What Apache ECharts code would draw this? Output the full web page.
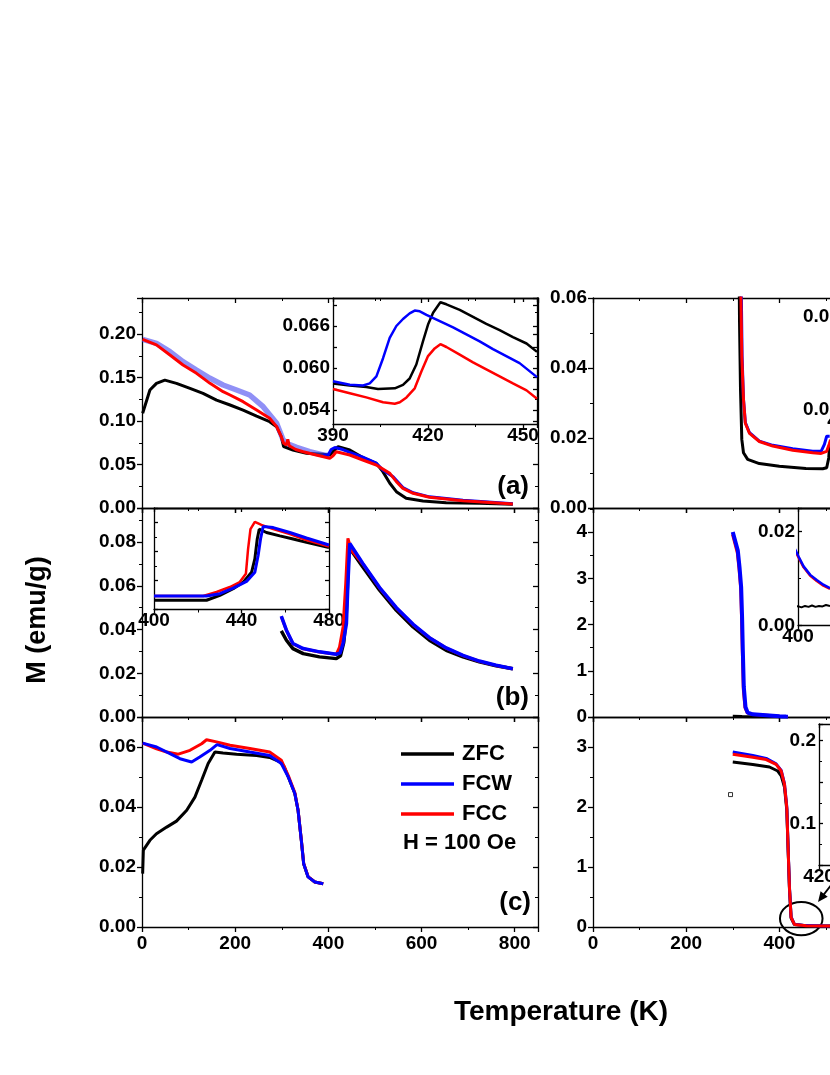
<!DOCTYPE html>
<html><head><meta charset="utf-8">
<script src="https://cdn.jsdelivr.net/npm/echarts@6/dist/echarts.min.js"></script>
<style>html,body{margin:0;padding:0;background:#fff}#c{width:830px;height:1075px}</style>
</head><body><div id="c"></div>
<script>
// ---------------- DATA ----------------
// Panel (a)
const aZFC = [[1.4,0.109],[17,0.1356],[31,0.1433],[49,0.147],[74,0.1433],[103,0.1375],[131,0.1318],[160,0.1241],[189,0.1184],[217,0.1126],[246,0.1057],[274,0.0992],[289,0.0935],[299,0.082],[304,0.0705],[324,0.0667],[353,0.0628],[389,0.0617],[403,0.0609],[412,0.066],[421,0.0705],[446,0.0667],[474,0.058],[503,0.0513],[517,0.0418],[532,0.0284],[546,0.0188],[567,0.0111],[603,0.008],[653,0.0061],[724,0.0054],[796,0.0042]];
const aFCW = [[1.4,0.1939],[31,0.1893],[60,0.1797],[88,0.1682],[117,0.1586],[146,0.1491],[174,0.1414],[203,0.1356],[231,0.1299],[260,0.1165],[289,0.0974],[303,0.0782],[314,0.0736],[332,0.0697],[360,0.0647],[389,0.0609],[399,0.0603],[406,0.0672],[414,0.0695],[431,0.0672],[446,0.064],[474,0.0585],[503,0.0515],[517,0.0437],[539,0.036],[560,0.0235],[582,0.0175],[617,0.0128],[689,0.0088],[796,0.0048]];
const aFCC = [[1.4,0.1939],[31,0.1875],[60,0.1759],[88,0.1644],[117,0.1548],[146,0.1433],[174,0.1337],[189,0.1299],[217,0.1222],[246,0.1126],[274,0.1031],[289,0.0935],[299,0.082],[304,0.0744],[310,0.0725],[313,0.079],[316,0.0715],[330,0.0672],[346,0.0647],[374,0.0609],[403,0.0571],[410,0.06],[417,0.0647],[446,0.0609],[474,0.0552],[503,0.0494],[532,0.0398],[546,0.0303],[560,0.0226],[582,0.0169],[617,0.0123],[689,0.0084],[796,0.0046]];
// Inset of (a)
const iaZFC = [[390,0.0578],[395.3,0.0575],[400.5,0.0573],[404.2,0.057],[409.5,0.0571],[412.1,0.0576],[414.2,0.0585],[416.3,0.0605],[418.4,0.0638],[420,0.0662],[421.6,0.0679],[423.9,0.0694],[425.8,0.0691],[430,0.0683],[434.2,0.0673],[438.4,0.0663],[442.6,0.0654],[446.8,0.0644],[451.1,0.0635],[454.4,0.0623]];
const iaFCW = [[390,0.0581],[395.3,0.0576],[399.5,0.0575],[401.6,0.0578],[403.7,0.0588],[405.8,0.0614],[407.9,0.0643],[410,0.066],[412.1,0.067],[414.2,0.0678],[415.8,0.0682],[417.4,0.0681],[419.5,0.0676],[423.7,0.0667],[427.9,0.0658],[432.1,0.0648],[436.3,0.0638],[440.5,0.0627],[444.7,0.0617],[448.9,0.0607],[454.4,0.0587]];
const iaFCC = [[390,0.057],[395.3,0.0564],[400.5,0.0558],[405.8,0.0551],[409.5,0.0549],[411.1,0.0551],[413.2,0.0558],[415.8,0.0571],[417.9,0.0595],[420,0.0617],[422.1,0.0628],[423.9,0.0634],[425.8,0.063],[430,0.0619],[434.2,0.0608],[438.4,0.0598],[442.6,0.0588],[446.8,0.0578],[451.1,0.0568],[454.4,0.0556]];
const iaTickLabels = [0.054, 0.060, 0.066];
const iaTicks = [0.054, 0.057, 0.060, 0.063, 0.066, 0.069];
// Panel (b)
const bZFC = [[299,0.0394],[310,0.0351],[324,0.0313],[346,0.029],[381,0.0275],[417,0.0267],[426,0.028],[433,0.034],[438,0.045],[441,0.06],[444,0.0778],[447,0.0772],[474,0.0686],[510,0.058],[546,0.0488],[582,0.0412],[617,0.0351],[653,0.0305],[689,0.0275],[724,0.0252],[760,0.0234],[796,0.0221]];
const bFCW = [[299,0.0461],[310,0.0397],[324,0.0336],[346,0.0313],[381,0.0298],[417,0.0287],[425,0.0292],[431.6,0.0336],[438.8,0.0427],[442,0.061],[446,0.0794],[474,0.0702],[510,0.0592],[546,0.05],[582,0.0424],[617,0.0363],[653,0.0316],[689,0.0282],[724,0.0256],[760,0.0237],[796,0.0221]];
const bFCC = [[299,0.046],[310,0.0396],[324,0.0335],[346,0.0312],[381,0.0297],[417,0.0287],[424,0.032],[431.6,0.0412],[437.3,0.061],[442,0.0817],[449.5,0.0763],[474,0.07],[510,0.059],[546,0.0498],[582,0.0422],[617,0.0362],[653,0.0315],[689,0.0281],[724,0.0255],[760,0.0236],[796,0.0221]];
// Inset of (b)
const ibZFC = [[400,0.0264],[408.8,0.0264],[424,0.0264],[430.1,0.0298],[436.2,0.0344],[440.8,0.0389],[444.6,0.0457],[446.1,0.0549],[447.2,0.0686],[448.1,0.0754],[451.4,0.0731],[457.5,0.0708],[463.6,0.0686],[469.7,0.0663],[480,0.0628]];
const ibFCW = [[400,0.0293],[424,0.0293],[430.1,0.0309],[436.2,0.0348],[442.3,0.0394],[446.1,0.0457],[447.6,0.0572],[448.7,0.0686],[449.9,0.0772],[454.5,0.0765],[462.1,0.0731],[469.7,0.0693],[480,0.0645]];
const ibFCC = [[400,0.0293],[408.8,0.0293],[422.5,0.0293],[428.6,0.0321],[434.7,0.0355],[439.2,0.0389],[442,0.0446],[443,0.0617],[444.1,0.0754],[446.1,0.0804],[449.1,0.0784],[454.5,0.0754],[462.1,0.072],[469.7,0.0679],[480,0.0635]];
// Panel (c)
const cZFC = [[1.4,0.0178],[2.9,0.0256],[17,0.0289],[31,0.0311],[53,0.0333],[74,0.0353],[96,0.0389],[113.6,0.0433],[128,0.0489],[142,0.0545],[156.5,0.0583],[174,0.058],[203,0.0576],[246,0.0572],[274,0.0565],[296,0.055],[305,0.0535],[314,0.05],[328,0.0445],[335,0.0389],[342,0.0289],[347,0.0211],[356.5,0.0167],[371,0.015],[389,0.0144]];
const cFCW = [[1.4,0.0613],[31.4,0.06],[60,0.0578],[81.5,0.0561],[106.5,0.055],[124,0.0567],[146,0.0589],[161,0.0608],[189,0.0595],[231.5,0.0583],[274,0.0572],[299,0.0545],[314,0.05],[328,0.0445],[335,0.0389],[342,0.0289],[347,0.0211],[356.5,0.0167],[371,0.015],[389,0.0144]];
const cFCC = [[1.4,0.0613],[31.4,0.0594],[53,0.0583],[78,0.0576],[103,0.0589],[128,0.0611],[138.6,0.0624],[160,0.0617],[189,0.0606],[231.5,0.0595],[274,0.0583],[299,0.0556],[314,0.0505],[328,0.0448],[335,0.039],[342,0.029],[347,0.0212],[356.5,0.0168],[371,0.015],[389,0.0144]];
// Right top panel
const rtZFC = [[312,0.1],[314.5,0.0532],[316.6,0.034],[319.4,0.0196],[323,0.0158],[332,0.0139],[357,0.0127],[400,0.0119],[457,0.0113],[493,0.0112],[501.6,0.0115],[506,0.0143],[508,0.018]];
const rtFCW = [[317,0.1],[318.5,0.06],[320,0.0435],[323,0.0311],[327,0.0244],[336,0.0215],[357,0.0191],[386,0.0179],[428.7,0.0169],[471.6,0.0162],[489.6,0.0162],[496.7,0.0182],[501.6,0.0205],[508,0.0205]];
const rtFCC = [[316.5,0.1],[317.5,0.06],[319.5,0.043],[323,0.031],[327,0.0242],[336,0.0213],[357,0.019],[386,0.0177],[428.7,0.0165],[471.6,0.0158],[489.6,0.0156],[501.6,0.0162],[507,0.0182],[510,0.0195]];
const rtiTickLabels = [0.01, 0.02];
// Right middle panel (also drawn in its inset)
const rmZFC = [[300,0.015],[320,0.01],[343,0.007],[400.3,0.0041],[402,0.0039],[404,0.0042],[406,0.004],[408,0.0043],[410,0.004],[412,0.0042],[414,0.0041],[416,0.0044],[418.3,0.0042]];
const rmFCW = [[300,4.0],[310.8,3.6],[314.5,3.24],[318,2.81],[320,2.16],[321.6,1.44],[323.7,0.65],[327.3,0.216],[332,0.095],[343,0.058],[371.6,0.037],[400.3,0.0147],[403.2,0.0126],[407,0.0108],[410.7,0.0097],[414.5,0.0087],[418.3,0.008]];
const rmFCC = [[299.5,3.95],[309.8,3.55],[313.5,3.2],[317,2.78],[319,2.1],[320.6,1.4],[322.7,0.6],[326.3,0.2],[331,0.09],[343,0.056],[371.6,0.036],[400.3,0.0145],[403.2,0.0124],[407,0.0106],[410.7,0.0095],[414.5,0.0085],[418.3,0.0078]];
// Right bottom panel
const rbZFC = [[300,2.75],[343,2.71],[378.8,2.667],[396.6,2.6],[404,2.52],[411,2.33],[416,1.95],[419,1.25],[421.7,0.64],[425.2,0.15],[432.4,0.04],[457.4,0.02],[500,0.015],[510,0.015]];
const rbFCW = [[300,2.917],[343,2.86],[371.7,2.81],[393,2.72],[404,2.61],[411,2.39],[416,2.0],[419,1.28],[421.7,0.667],[425.2,0.167],[432.4,0.045],[457.4,0.023],[500,0.017],[510,0.016]];
const rbFCC = [[300,2.878],[343,2.83],[371.7,2.79],[393,2.71],[404,2.6],[411,2.38],[416,1.98],[419,1.26],[421.7,0.65],[425.2,0.16],[432.4,0.042],[457.4,0.022],[500,0.017],[510,0.016]];
const rbStray = [[295.2,2.207]];
const rbiTickLabels = [0.1, 0.2];
// annotation anchors (data coords of right-bottom panel)
const circleCenter = [447, 0.14];
const arrowTip = [483, 0.417];
const arrowTail = [546, 1.05];
const legendNames = ['ZFC', 'FCW', 'FCC'];

// ---------------- CHART ----------------
const FONT = "'Liberation Sans', Arial, sans-serif";
const chart = echarts.init(document.getElementById('c'));
const grids = [], xAxes = [], yAxes = [], series = [];

function panel(p) {
  const g = grids.length;
  grids.push({left: p.left, top: p.top, width: p.width, height: p.height, outerBoundsMode: 'none', containLabel: false});
  const col = '#000';
  const aLine = {show: true, onZero: false, lineStyle: {color: col, width: 1.3}};
  const tl = p.inset ? 4 : 5;
  const lab = (show, dec, margin, showMax, custom) => {
    const o = {show, margin, fontFamily: FONT, fontWeight: 'bold', fontSize: 19, color: '#000',
      showMaxLabel: custom ? true : showMax, hideOverlap: false, formatter: v => Number(v).toFixed(dec)};
    if (custom) o.customValues = custom;
    return o;
  };
  const tick = (inside, custom) => {
    const o = {show: true, inside, length: tl, lineStyle: {color: col, width: 1.3}};
    if (custom) o.customValues = custom;
    return o;
  };
  const minor = (custom) => custom ? {show: false} : {show: true, splitNumber: 2, length: 3, lineStyle: {color: col, width: 1}};
  const base = (r) => {
    const o = {type: 'value', gridIndex: g, min: r[0], max: r[1], splitLine: {show: false}, axisLine: aLine};
    if (r[2]) o.interval = r[2];
    return o;
  };
  const xi = xAxes.length;
  xAxes.push(Object.assign(base(p.x), {position: 'bottom', axisTick: tick(false), minorTick: minor(),
    axisLabel: lab(!!p.xLab, 0, p.inset ? 2 : 7, !!p.xShowMax)}));
  xAxes.push(Object.assign(base(p.x), {position: 'top', axisTick: tick(true), minorTick: minor(), axisLabel: {show: false}}));
  const yi = yAxes.length;
  yAxes.push(Object.assign(base(p.y), {position: 'left', axisTick: tick(!!p.inset, p.yTicks), minorTick: minor(p.yTicks),
    axisLabel: lab(p.yLab !== false, p.yDec || 0, p.inset ? 3 : 6, !!p.yShowMax, p.yLabels)}));
  yAxes.push(Object.assign(base(p.y), {position: 'right', axisTick: tick(true, p.yTicks), minorTick: minor(p.yTicks), axisLabel: {show: false}}));
  return {x: xi, y: yi};
}

const ax = {};
ax.a  = panel({left: 142, top: 298, width: 396, height: 210, x: [0, 850, 200], y: [0, 0.2414, 0.05], yDec: 2});
ax.b  = panel({left: 142, top: 508, width: 396, height: 209, x: [0, 850, 200], y: [0, 0.0956, 0.02], yDec: 2});
ax.c  = panel({left: 142, top: 717, width: 396, height: 210, x: [0, 850, 200], y: [0, 0.07, 0.02], yDec: 2, xLab: true});
ax.rt = panel({left: 593, top: 298, width: 396, height: 210, x: [0, 850, 200], y: [0, 0.06, 0.02], yDec: 2, yShowMax: true});
ax.rm = panel({left: 593, top: 508, width: 396, height: 209, x: [0, 850, 200], y: [0, 4.52, 1], yDec: 0});
ax.rb = panel({left: 593, top: 717, width: 396, height: 210, x: [0, 850, 200], y: [0, 3.5, 1], yDec: 0, xLab: true});
ax.ia = panel({left: 333, top: 298, width: 204, height: 126, x: [390, 454.4, 30], y: [0.052, 0.070], yLabels: iaTickLabels, yTicks: iaTicks, yDec: 3, xLab: true, inset: true});
ax.ib = panel({left: 154, top: 508, width: 175, height: 101.5, x: [400, 480, 40], y: [0.02, 0.09, 0.02], yLab: false, xLab: true, xShowMax: true, inset: true});
ax.irt = panel({left: 843, top: 298, width: 130, height: 112, x: [400, 480, 40], y: [0.010, 0.022, 0.005], yLabels: rtiTickLabels, yDec: 2, xLab: true, inset: true});
ax.irm = panel({left: 798, top: 508, width: 140, height: 117.7, x: [400, 480, 40], y: [0, 0.025, 0.02], yDec: 2, xLab: true, inset: true});
ax.irb = panel({left: 819, top: 724, width: 150, height: 141, x: [420, 480, 20], y: [0.05, 0.22, 0.05], yLabels: rbiTickLabels, yDec: 1, xLab: true, inset: true});

const C = {ZFC: '#000000', FCW: '#0000ff', FCC: '#ff0000'};
function line(name, data, a, width) {
  const color = C[name];
  series.push({type: 'line', name, data, xAxisIndex: a.x, yAxisIndex: a.y,
    symbol: 'none', showSymbol: false, clip: true, silent: true, animation: false,
    lineStyle: {color, width}, itemStyle: {color}});
}
// (a)
line('ZFC', aZFC, ax.a, 3);
series.push({type: 'line', name: 'FCW-cloud', data: aFCW.filter(d => d[0] <= 399), xAxisIndex: ax.a.x, yAxisIndex: ax.a.y,
  symbol: 'none', clip: true, silent: true, animation: false, lineStyle: {color: 'rgba(70,70,240,0.6)', width: 5.5}});
line('FCW', aFCW.filter(d => d[0] >= 389), ax.a, 3);
line('FCC', aFCC, ax.a, 3);
// inset a
line('ZFC', iaZFC, ax.ia, 2.5);
line('FCW', iaFCW, ax.ia, 2.5);
line('FCC', iaFCC, ax.ia, 2.5);
// (b)
line('ZFC', bZFC, ax.b, 3.5);
line('FCC', bFCC, ax.b, 3);
line('FCW', bFCW, ax.b, 3.5);
line('ZFC', ibZFC, ax.ib, 3);
line('FCC', ibFCC, ax.ib, 2.5);
line('FCW', ibFCW, ax.ib, 3);
// (c)
line('ZFC', cZFC, ax.c, 3);
line('FCC', cFCC, ax.c, 3);
line('FCW', cFCW, ax.c, 3);
// right top
line('ZFC', rtZFC, ax.rt, 3);
line('FCW', rtFCW, ax.rt, 3);
line('FCC', rtFCC, ax.rt, 3);
// right middle + inset
line('ZFC', rmZFC, ax.rm, 3);
line('FCC', rmFCC, ax.rm, 3);
line('FCW', rmFCW, ax.rm, 4);
line('ZFC', rmZFC, ax.irm, 2);
line('FCC', rmFCC, ax.irm, 2.5);
line('FCW', rmFCW, ax.irm, 2.5);
// right bottom
line('ZFC', rbZFC, ax.rb, 3);
line('FCW', rbFCW, ax.rb, 3);
line('FCC', rbFCC, ax.rb, 3);
series.push({type: 'scatter', name: 'stray', data: rbStray, xAxisIndex: ax.rb.x, yAxisIndex: ax.rb.y,
  symbol: 'rect', symbolSize: 4, silent: true, animation: false,
  itemStyle: {color: '#fff', borderColor: '#000', borderWidth: 1}});

const option = {
  backgroundColor: '#fff',
  animation: false,
  grid: grids, xAxis: xAxes, yAxis: yAxes, series,
  legend: {data: legendNames, orient: 'vertical', left: 401, top: 743, itemWidth: 53, itemHeight: 3.5, itemGap: 8,
    icon: 'rect', selectedMode: false, padding: 0,
    textStyle: {fontFamily: FONT, fontWeight: 'bold', fontSize: 22, color: '#000', lineHeight: 22, padding: [0, 0, 0, 3]}}
};
chart.setOption(option);

// ---------------- ANNOTATIONS ----------------
const P = (a, pt) => chart.convertToPixel({xAxisIndex: a.x, yAxisIndex: a.y}, pt);
const cc = P(ax.rb, circleCenter), tip = P(ax.rb, arrowTip), tail = P(ax.rb, arrowTail);
let dx = tip[0] - tail[0], dy = tip[1] - tail[1];
const L = Math.hypot(dx, dy); dx /= L; dy /= L;
const nx = -dy, ny = dx, hl = 10, hw = 4.5;
const txt = (text, x, y, size, align, extra) => Object.assign({type: 'text', x, y, silent: true,
  style: {text, fontFamily: FONT, fontWeight: 'bold', fontSize: size, fill: '#000', align, verticalAlign: 'middle'}}, extra || {});
chart.setOption({graphic: [
  txt('H = 100 Oe', 403, 843, 22, 'left'),
  txt('(a)', 529, 487, 26, 'right'),
  txt('(b)', 529, 698, 26, 'right'),
  txt('(c)', 531, 903, 26, 'right'),
  txt('Temperature (K)', 561, 1012, 28, 'center'),
  txt('M (emu/g)', 38, 620, 27, 'center', {rotation: Math.PI / 2}),
  {type: 'ellipse', silent: true, shape: {cx: cc[0], cy: cc[1], rx: 21.3, ry: 16.7}, style: {fill: 'none', stroke: '#000', lineWidth: 2}},
  {type: 'line', silent: true, shape: {x1: tail[0], y1: tail[1], x2: tip[0] - dx * (hl - 2), y2: tip[1] - dy * (hl - 2)}, style: {stroke: '#000', lineWidth: 1.8}},
  {type: 'polygon', silent: true, shape: {points: [[tip[0], tip[1]], [tip[0] - dx * hl + nx * hw, tip[1] - dy * hl + ny * hw], [tip[0] - dx * hl - nx * hw, tip[1] - dy * hl - ny * hw]]}, style: {fill: '#000'}}
]});
</script></body></html>
